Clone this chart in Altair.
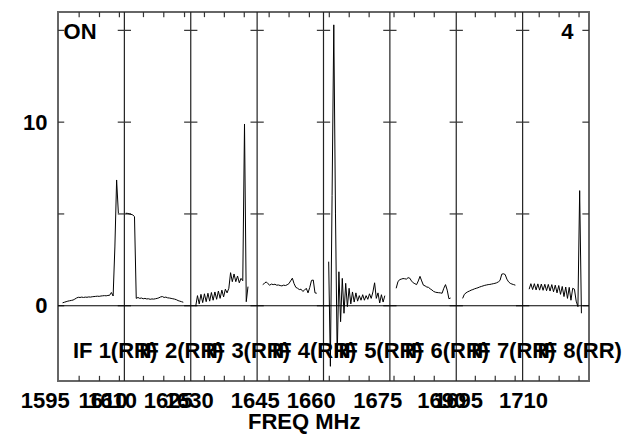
import altair as alt
import pandas as pd

# ---------------- data ----------------
# Each IF panel is 16 plot-MHz wide on a shared axis 1595..1723
PANEL_START = 1595.0
PANEL_WIDTH = 16.0
N_PANELS = 8

# channel start (plot MHz) and channel step for each IF
IF_START = [1596.11, 1611.34, 1628.20, 1644.35, 1660.25, 1676.52, 1692.54, 1708.57]
IF_STEP = [0.42, 0.42, 0.42, 0.42, 0.41, 0.41, 0.41, 0.42]

IF1 = [0.16, 0.19, 0.22, 0.25, 0.27, 0.29, 0.31, 0.36, 0.42, 0.46, 0.45, 0.47, 0.45,
       0.47, 0.46, 0.48, 0.47, 0.49, 0.50, 0.51, 0.52, 0.51, 0.53, 0.54, 0.55, 0.54,
       0.56, 0.57, 0.72, 0.53, 3.2, 6.85, 5.04]
IF2 = [5.04, 5.03, 5.00, 4.98, 4.95, 4.85, 0.40, 0.45, 0.40, 0.42, 0.38, 0.40, 0.37,
       0.38, 0.35, 0.37, 0.36, 0.38, 0.40, 0.43, 0.48, 0.50, 0.45, 0.47, 0.43, 0.42,
       0.40, 0.38, 0.36, 0.33, 0.28, 0.25, 0.22, 0.19]
IF3 = [-0.02, 0.55, 0.10, 0.62, 0.17, 0.65, 0.22, 0.68, 0.25, 0.72, 0.30, 0.75, 0.35,
       0.80, 0.40, 0.85, 0.48, 0.90, 0.70, 0.95, 1.80, 1.31, 1.73, 1.31, 1.62, 1.25,
       1.49, 1.36, 9.9, 0.22, 1.04]
IF4 = [1.15, 1.22, 1.30, 1.20, 1.12, 1.18, 1.15, 1.17, 1.12, 1.13, 1.10, 1.08, 1.12,
       1.10, 1.14, 1.20, 1.35, 1.50, 1.20, 1.00, 0.95, 0.88, 0.90, 0.78, 0.85, 0.95,
       0.70, 1.00, 1.38, 1.40, 0.70, 0.68]
IF5 = [2.4, -3.3, 6.0, 15.3, 5.0, -2.8, 1.85, -0.87, 1.49, -0.41, 1.22, -0.05, 0.95,
       0.10, 0.75, 0.20, 0.70, 0.25, 0.55, 0.30, 0.60, 0.30, 0.55, 0.35, 0.65, 0.40,
       0.75, 1.25, 0.40, 0.70, 0.15, 0.60, 0.20, 0.55]
IF6 = [0.95, 1.30, 1.42, 1.45, 1.48, 1.47, 1.45, 1.53, 1.50, 1.35, 1.25, 1.20, 1.15,
       1.35, 1.60, 1.35, 1.12, 1.08, 1.02, 1.00, 0.92, 0.86, 0.78, 0.74, 0.72, 0.71,
       0.70, 0.68, 0.95, 1.15, 0.85, 0.38, 0.42]
IF7 = [0.40, 0.62, 0.70, 0.76, 0.80, 0.85, 0.88, 0.92, 0.95, 0.98, 1.02, 1.05, 1.08,
       1.11, 1.13, 1.15, 1.16, 1.18, 1.20, 1.22, 1.25, 1.30, 1.38, 1.72, 1.74, 1.70,
       1.45, 1.30, 1.22, 1.18, 1.15, 1.12]
IF8 = [0.90, 1.20, 0.88, 1.20, 0.86, 1.19, 0.85, 1.18, 0.84, 1.17, 0.82, 1.16, 0.80,
       1.15, 0.76, 1.12, 0.70, 1.10, 0.62, 1.05, 0.50, 1.02, 0.40, 1.00, 0.30, 0.95,
       0.90, 0.25, -0.05, 6.27, -0.41]
SPECTRA = [IF1, IF2, IF3, IF4, IF5, IF6, IF7, IF8]
IF_NAMES = ["IF 1(RR)", "IF 2(RR)", "IF 3(RR)", "IF 4(RR)",
            "IF 5(RR)", "IF 6(RR)", "IF 7(RR)", "IF 8(RR)"]

# frequency tick labels as printed (overlapping per-panel labels)
XLABEL_TEXT = ["1595", "1610", "1610", "1625", "1630", "1645", "1660", "1675",
               "1690", "1695", "1710"]
XLABEL_POS = [1591.94, 1605.87, 1608.13, 1621.58, 1626.64, 1642.54, 1656.04,
              1672.06, 1687.51, 1691.53, 1707.19]

# minor tick marks along top and bottom edges
XTICKS = [1600.1, 1605.0, 1609.8, 1615.6, 1620.5, 1625.5, 1630.3, 1635.1, 1639.9,
          1645.9, 1650.7, 1655.6, 1660.4, 1665.2, 1670.0, 1676.0, 1680.9, 1685.7,
          1695.6, 1700.4, 1705.2, 1711.0, 1715.8, 1720.6]
YTICKS = [0, 5, 10, 15]
YLABELS = [0, 10]
Y_MIN, Y_MAX = -4.1, 16.0

# ---------------- build tables ----------------
rows = []
for k, vals in enumerate(SPECTRA):
    for i, v in enumerate(vals):
        rows.append({"ifn": k + 1, "freq": IF_START[k] + i * IF_STEP[k], "amp": v})
spec = pd.DataFrame(rows)

x_end = PANEL_START + N_PANELS * PANEL_WIDTH
dividers = [PANEL_START + PANEL_WIDTH * k for k in range(1, N_PANELS)]
div_df = pd.DataFrame({"x": dividers, "y": [Y_MIN] * len(dividers), "y2": [Y_MAX] * len(dividers)})

yt_rows = []
for yv in YTICKS:
    for d in dividers:
        yt_rows.append({"x": d - 1.6, "x2": d + 1.6, "y": yv})
    yt_rows.append({"x": PANEL_START, "x2": PANEL_START + 1.5, "y": yv})
    yt_rows.append({"x": x_end - 1.6, "x2": x_end, "y": yv})
yt_df = pd.DataFrame(yt_rows)

tick_len = 0.28
xt_rows = []
for t in XTICKS:
    xt_rows.append({"x": t, "y": Y_MAX, "y2": Y_MAX - tick_len})
    xt_rows.append({"x": t, "y": Y_MIN, "y2": Y_MIN + tick_len})
xt_df = pd.DataFrame(xt_rows)

zero_df = pd.DataFrame({"x": [PANEL_START], "x2": [x_end], "y": [0.0]})

xlab_df = pd.DataFrame({"text": XLABEL_TEXT, "x": XLABEL_POS, "y": [-5.59] * len(XLABEL_POS)})
iflab_df = pd.DataFrame({"text": IF_NAMES,
                         "x": [PANEL_START + 3.61 + PANEL_WIDTH * k for k in range(N_PANELS)],
                         "y": [-2.87] * N_PANELS})
title_df = pd.DataFrame({"text": ["FREQ MHz"], "x": [1654.35], "y": [-6.74]})
on_df = pd.DataFrame({"text": ["ON"], "x": [1596.35], "y": [14.53]})
num_df = pd.DataFrame({"text": ["4"], "x": [1719.24], "y": [14.53]})

# ---------------- encodings ----------------
FONT = "Liberation Sans"
xscale = alt.Scale(domain=[PANEL_START, x_end], nice=False, zero=False)
yscale = alt.Scale(domain=[Y_MIN, Y_MAX], nice=False, zero=False)
yaxis = alt.Axis(values=YLABELS, ticks=False, tickSize=0, domain=False, grid=False,
                 labelFontSize=22, labelFontWeight="bold", labelFont=FONT,
                 labelColor="black", labelPadding=11, title=None)


def X(f):
    return alt.X(f, type="quantitative", scale=xscale, axis=None)


def Y(f):
    return alt.Y(f, type="quantitative", scale=yscale, axis=yaxis)


spectra = alt.Chart(spec).mark_line(color="black", strokeWidth=1).encode(
    x=X("freq"), y=Y("amp"), detail="ifn:N", order="freq:Q")

div_layer = alt.Chart(div_df).mark_rule(color="#222", strokeWidth=1.2).encode(
    x=X("x"), y=Y("y"), y2="y2")
ytick_layer = alt.Chart(yt_df).mark_rule(color="#333", strokeWidth=1.2).encode(
    x=X("x"), x2="x2", y=Y("y"))
xtick_layer = alt.Chart(xt_df).mark_rule(color="#333", strokeWidth=1.2).encode(
    x=X("x"), y=Y("y"), y2="y2")
zero_layer = alt.Chart(zero_df).mark_rule(color="black", strokeWidth=1.2).encode(
    x=X("x"), x2="x2", y=Y("y"))


def text_layer(df, align, size=22):
    return alt.Chart(df).mark_text(font=FONT, fontSize=size, fontWeight="bold",
                                   color="black", align=align, baseline="alphabetic").encode(
        x=X("x"), y=Y("y"), text="text:N")


chart = alt.layer(
    div_layer, ytick_layer, xtick_layer, zero_layer, spectra,
    text_layer(xlab_df, "center"),
    text_layer(iflab_df, "left"),
    text_layer(title_df, "center"),
    text_layer(on_df, "left"),
    text_layer(num_df, "right"),
).properties(
    width=531, height=369,
    autosize=alt.AutoSizeParams(type="none"),
    padding={"left": 50, "top": 4, "right": 34, "bottom": 56},
    background="white",
).configure_view(stroke="#666", strokeWidth=2)

chart.save("out.html", embed_options={"renderer": "svg", "actions": False})
